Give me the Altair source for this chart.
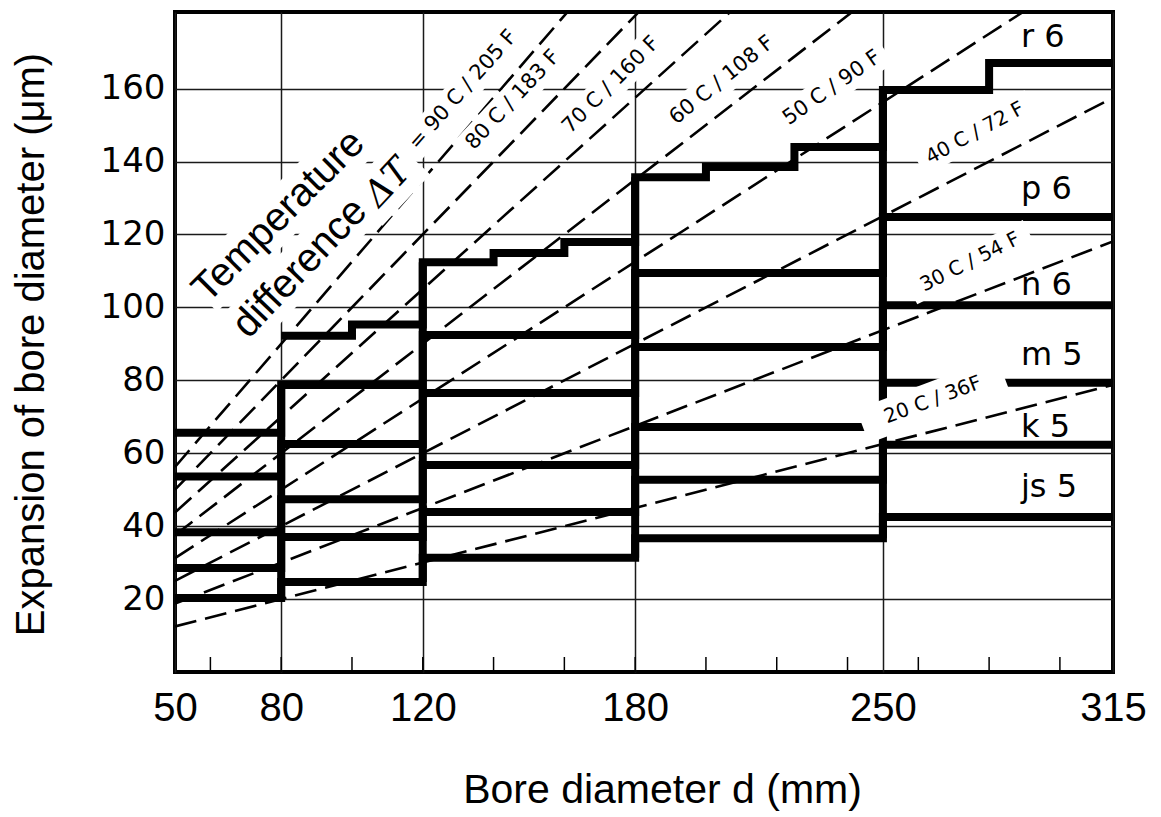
import altair as alt
import pandas as pd

# ---------------- scales / layout ----------------
X_DOMAIN = [50, 315]
Y_DOMAIN = [0, 181]
W, H = 938, 660

# ---------------- axis data ----------------
x_label_values = [50, 80, 120, 180, 250, 315]
x_minor_ticks = [60, 80, 100, 120, 140, 160, 180, 200, 220, 240, 260, 280, 300]
y_tick_values = [20, 40, 60, 80, 100, 120, 140, 160]

# ---------------- fit step lines (bore diameter ranges, expansion in um) ----------------
range_starts = [50, 80, 120, 180, 250]
range_end = 315
r6_starts = [80, 100, 120, 140, 160, 180, 200, 225, 250, 280]
r6_values = [92.2, 95.3, 112.4, 114.9, 117.9, 135.7, 138.5, 144.0, 159.6, 167.0]
p6_values = [65.6, 78.7, 92.4, 109.4, 124.8]
n6_values = [53.6, 62.5, 76.5, 89.1, 100.6]
m5_values = [38.3, 47.4, 56.8, 67.2, 79.3]
k5_values = [28.5, 37.0, 43.9, 52.7, 62.3]
js5_values = [20.3, 24.7, 31.3, 36.7, 42.5]

series_names = ["r 6", "p 6", "n 6", "m 5", "k 5", "js 5"]
series_starts = [r6_starts, range_starts, range_starts, range_starts, range_starts, range_starts]
series_values = [r6_values, p6_values, n6_values, m5_values, k5_values, js5_values]

# series label anchors (left edge, baseline)
series_label_d = [289, 289, 289, 289, 289, 289]
series_label_v = [171.4, 129.7, 103.4, 84.2, 64.4, 48.0]

# ---------------- temperature difference lines ----------------
dt_celsius = [20, 30, 40, 50, 60, 70, 80, 90]
dt_at_50 = [12.5, 18.75, 25.0, 31.25, 37.5, 43.75, 50.0, 56.25]
dt_at_315 = [78.75, 118.1, 157.5, 196.9, 236.3, 275.6, 315.0, 354.4]

dt_texts = ["20 C / 36F", "30 C / 54 F", "40 C / 72 F", "50 C / 90 F",
            "60 C / 108 F", "70 C / 160 F", "80 C / 183 F", "= 90 C / 205 F"]
dt_label_d = [264.1, 274.6, 276.0, 235.6, 204.5, 173.2, 145.5, 131.4]
dt_label_v = [74.6, 112.4, 147.8, 160.2, 162.3, 161.0, 156.9, 159.6]
dt_label_angle = [20.6, 26.6, 28.5, 35, 39, 45, 47, 48.5]
dt_label_size = [20, 20, 20, 21, 21, 21, 21, 21]
dt_box_w = [150, 132, 128, 130, 140, 140, 140, 160]
dt_box_h = [36, 28, 28, 30, 30, 30, 30, 30]

big_texts = ["Temperature", "difference"]
big_label_d = [79.3, 85.3]
big_label_v = [125.0, 110.8]
big_label_angle = [45, 46.5]
big_box_w = [222, 195]
big_box_h = [48, 48]

delta_text = ["ΔT"]
delta_d = [110.2]
delta_v = [134.1]
delta_angle = [47]
delta_box_w = [70]
delta_box_h = [50]

# ---------------- tables ----------------
step_rows = []
for name, ds, vs in zip(series_names, series_starts, series_values):
    for d, v in zip(ds, vs):
        step_rows.append({"series": name, "d": d, "v": v})
    step_rows.append({"series": name, "d": range_end, "v": vs[-1]})
step_df = pd.DataFrame(step_rows)

bar_rows = []
for b in range_starts[1:]:
    vals = []
    for ds, vs in zip(series_starts, series_values):
        if b in ds:
            i = ds.index(b)
            if i > 0:
                vals += [vs[i - 1], vs[i]]
    bar_rows.append({"d": b, "v": min(vals), "v2": max(vals)})
bar_df = pd.DataFrame(bar_rows)

dash_rows = []
for c, a, b in zip(dt_celsius, dt_at_50, dt_at_315):
    dash_rows.append({"dt": c, "d": 50, "v": a})
    dash_rows.append({"dt": c, "d": 315, "v": b})
dash_df = pd.DataFrame(dash_rows)

tick_df = pd.DataFrame({"d": x_minor_ticks})


def box_path(w, h):
    a = h / w
    return f"M-1,{-a:.4f}L1,{-a:.4f}L1,{a:.4f}L-1,{a:.4f}Z"


box_rows = []
for d, v, ang, w, h in zip(dt_label_d + big_label_d + delta_d,
                           dt_label_v + big_label_v + delta_v,
                           dt_label_angle + big_label_angle + delta_angle,
                           dt_box_w + big_box_w + delta_box_w,
                           dt_box_h + big_box_h + delta_box_h):
    box_rows.append({"d": d, "v": v, "rot": 360 - ang, "sz": w * w, "shape": box_path(w, h)})
box_df = pd.DataFrame(box_rows)

dt_label_df = pd.DataFrame({"d": dt_label_d, "v": dt_label_v, "text": dt_texts,
                            "rot": [360 - a for a in dt_label_angle], "fs": dt_label_size})
big_df = pd.DataFrame({"d": big_label_d, "v": big_label_v, "text": big_texts,
                       "rot": [360 - a for a in big_label_angle]})
delta_df = pd.DataFrame({"d": delta_d, "v": delta_v, "text": delta_text,
                         "rot": [360 - a for a in delta_angle]})
series_label_df = pd.DataFrame({"d": series_label_d, "v": series_label_v, "text": series_names})

# ---------------- encodings ----------------
xs = alt.Scale(domain=X_DOMAIN, nice=False, zero=False)
ys = alt.Scale(domain=Y_DOMAIN, nice=False, zero=False)

x_axis = alt.Axis(values=x_label_values, grid=True, ticks=False, domain=False,
                  gridColor="#1a1a1a", gridWidth=1.5, gridOpacity=1,
                  labelFont="Liberation Sans", labelFontSize=40, labelColor="black",
                  labelPadding=16, labelFlush=False, labelOverlap=False,
                  title="Bore diameter  d (mm)", titleFont="Liberation Sans",
                  titleFontSize=41, titleFontWeight="normal", titleColor="black",
                  titleX=487, titleY=130, titleBaseline="alphabetic", titleAlign="center")
y_axis = alt.Axis(values=y_tick_values, grid=True, ticks=False, domain=False,
                  gridColor="#1a1a1a", gridWidth=1.5, gridOpacity=1,
                  labelFont="DejaVu Sans", labelFontSize=34, labelColor="black",
                  labelPadding=10, labelOverlap=False,
                  title="Expansion of bore diameter (μm)", titleFont="Liberation Sans",
                  titleFontSize=40, titleFontWeight="normal", titleColor="black",
                  titleAngle=270, titleX=-132, titleY=332, titleBaseline="alphabetic",
                  titleAlign="center")

X = alt.X("d:Q", scale=xs, axis=x_axis)
Y = alt.Y("v:Q", scale=ys, axis=y_axis)

dashed = alt.Chart(dash_df).mark_line(
    clip=True, color="black", strokeWidth=2.6, strokeDash=[22, 9]
).encode(x=X, y=Y, detail="dt:N")

ticks = alt.Chart(tick_df).mark_rule(color="black", strokeWidth=1.5).encode(
    x=X,
    y=alt.value(H),
    y2=alt.value(H - 15),
)

steps = alt.Chart(step_df).mark_line(
    interpolate="step-after", color="black", strokeWidth=8,
    strokeCap="butt", strokeJoin="miter", clip=True
).encode(x=X, y=Y, detail="series:N", order="d:Q")

bars = alt.Chart(bar_df).mark_rule(color="black", strokeWidth=8, strokeCap="butt").encode(
    x=X, y=Y, y2="v2:Q",
)

boxes = alt.Chart(box_df).mark_point(
    filled=True, color="white", opacity=1, strokeWidth=0, clip=True
).encode(
    x=X, y=Y,
    shape=alt.Shape("shape:N", scale=None, legend=None),
    size=alt.Size("sz:Q", scale=None, legend=None),
    angle=alt.Angle("rot:Q", scale=None),
)

dt_labels = alt.Chart(dt_label_df).mark_text(
    font="DejaVu Sans", align="center", baseline="middle", color="black"
).encode(
    x=X, y=Y, text="text:N",
    angle=alt.Angle("rot:Q", scale=None),
    size=alt.Size("fs:Q", scale=None, legend=None),
)

big_labels = alt.Chart(big_df).mark_text(
    font="Liberation Sans", fontSize=40, align="center", baseline="middle", color="black"
).encode(x=X, y=Y, text="text:N", angle=alt.Angle("rot:Q", scale=None))

delta_label = alt.Chart(delta_df).mark_text(
    font="DejaVu Serif", fontStyle="italic", fontSize=36, align="center",
    baseline="middle", color="black"
).encode(x=X, y=Y, text="text:N", angle=alt.Angle("rot:Q", scale=None))

series_labels = alt.Chart(series_label_df).mark_text(
    font="DejaVu Sans", fontSize=32, align="left", baseline="alphabetic", color="black"
).encode(x=X, y=Y, text="text:N")

chart = alt.layer(
    dashed, ticks, steps, bars, boxes, dt_labels, big_labels, delta_label, series_labels
).properties(
    width=W, height=H,
    autosize=alt.AutoSizeParams(type="none"),
    padding={"left": 167, "top": 4, "right": 40, "bottom": 140},
    background="white",
).configure_view(
    stroke="black", strokeWidth=4
)

chart.save("out.html", embed_options={"renderer": "svg", "actions": False})
